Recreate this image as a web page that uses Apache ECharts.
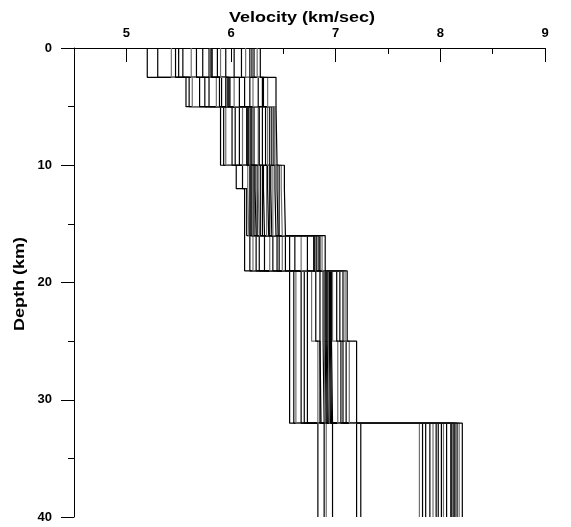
<!DOCTYPE html>
<html>
<head>
<meta charset="utf-8">
<script src="https://cdn.jsdelivr.net/npm/echarts@6/dist/echarts.min.js"></script>
<style>
  html, body { margin: 0; padding: 0; background: #fff; }
  #chart { width: 571px; height: 527px; }
</style>
</head>
<body>
<div id="chart"></div>
<script>
// Layer boundaries of the 1-D crustal velocity models (km depth)
const layerDepths = [0, 2.5, 5, 10, 12, 16, 19, 25, 32, 40];

// P velocities (km/sec) of every model, one array per layer, ordered by model
const layer1 = [5.20, 5.30, 5.43, 5.47, 5.50, 5.54, 5.62, 5.67, 5.73, 5.79, 5.80, 5.81,
                5.82, 5.87, 5.90, 5.95, 6.03, 6.10, 6.14, 6.18, 6.20, 6.22, 6.25, 6.28];
const layer2 = [5.57, 5.60, 5.63, 5.70, 5.75, 5.79, 5.86, 5.89, 5.91, 5.95, 5.96, 5.97,
                5.98, 5.99, 6.03, 6.08, 6.13, 6.18, 6.21, 6.26, 6.30, 6.31, 6.35, 6.43];
const layer3 = [5.90, 5.93, 5.95, 6.01, 6.04, 6.08, 6.11, 6.15, 6.16, 6.17, 6.18, 6.19,
                6.20, 6.22, 6.26, 6.27, 6.30, 6.33, 6.35, 6.37, 6.39, 6.41, 6.42, 6.44];
const layer4 = [6.05, 6.11, 6.16, 6.18, 6.19, 6.20, 6.21, 6.22, 6.23, 6.25, 6.26, 6.28,
                6.30, 6.31, 6.34, 6.35, 6.37, 6.38, 6.40, 6.42, 6.44, 6.46, 6.48, 6.51];
const layer5 = [6.13, 6.15, 6.17, 6.18, 6.19, 6.20, 6.21, 6.22, 6.24, 6.25, 6.27, 6.28,
                6.30, 6.32, 6.34, 6.36, 6.37, 6.39, 6.40, 6.43, 6.45, 6.46, 6.49, 6.52];
const layer6 = [6.13, 6.18, 6.21, 6.24, 6.27, 6.32, 6.37, 6.40, 6.44, 6.46, 6.49, 6.52,
                6.56, 6.61, 6.67, 6.73, 6.79, 6.80, 6.81, 6.82, 6.84, 6.85, 6.87, 6.90];
const layer7 = [6.56, 6.60, 6.62, 6.67, 6.70, 6.73, 6.77, 6.81, 6.85, 6.88, 6.89, 6.90,
                6.91, 6.92, 6.93, 6.94, 6.95, 6.96, 6.97, 7.01, 7.04, 7.07, 7.09, 7.11];
const layer8 = [6.56, 6.60, 6.62, 6.67, 6.70, 6.73, 6.83, 6.85, 6.86, 6.89, 6.90, 6.91,
                6.92, 6.93, 6.94, 6.95, 6.96, 6.97, 7.02, 7.05, 7.07, 7.10, 7.13, 7.20];
const layer9 = [6.83, 6.89, 6.91, 6.97, 7.20, 7.24, 7.80, 7.83, 7.86, 7.90, 7.93, 7.96,
                7.98, 8.01, 8.03, 8.06, 8.10, 8.11, 8.12, 8.13, 8.14, 8.16, 8.18, 8.21];

const layers = [layer1, layer2, layer3, layer4, layer5, layer6, layer7, layer8, layer9];

// Axis ticks
const velocityMajorTicks = [5, 6, 7, 8, 9];
const velocityMinorTicks = [5.5, 6.5, 7.5, 8.5];
const depthMajorTicks = [0, 10, 20, 30, 40];
const depthMinorTicks = [5, 15, 25, 35];

// Each model becomes a step profile: constant velocity through each layer
const modelCount = layer1.length;
const series = [];
for (let m = 0; m < modelCount; m++) {
  const pts = [];
  layers.forEach((vals, k) => {
    pts.push([vals[m], layerDepths[k]]);
    pts.push([vals[m], layerDepths[k + 1]]);
  });
  series.push({
    type: 'line',
    data: pts,
    showSymbol: false,
    silent: true,
    lineStyle: { width: 1.2, color: (m % 4 === 2) ? '#707070' : '#000' }
  });
}

const labelFont = { fontFamily: 'Liberation Sans, Arial, sans-serif', fontWeight: 'bold', fontSize: 13, color: '#000' };
const titleFont = 'bold 15px "Liberation Sans", Arial, sans-serif';

const chart = echarts.init(document.getElementById('chart'), null, { renderer: 'canvas' });
chart.setOption({
  animation: false,
  backgroundColor: '#fff',
  grid: { left: 74, right: 26, top: 48, bottom: 10, containLabel: false },
  xAxis: [
    {
      type: 'value', position: 'top', min: 4.5, max: 9, interval: 0.5,
      axisLine: { show: true, lineStyle: { color: '#000', width: 1 } },
      axisTick: { show: true, inside: true, length: 14, customValues: velocityMajorTicks, lineStyle: { color: '#000' } },
      axisLabel: Object.assign({ show: true, margin: 8, customValues: velocityMajorTicks }, labelFont),
      splitLine: { show: false }
    },
    {
      type: 'value', position: 'top', min: 4.5, max: 9, interval: 0.5,
      axisLine: { show: false },
      axisTick: { show: true, inside: true, length: 6, customValues: velocityMinorTicks, lineStyle: { color: '#000' } },
      axisLabel: { show: false },
      splitLine: { show: false }
    }
  ],
  yAxis: [
    {
      type: 'value', inverse: true, min: 0, max: 40, interval: 5,
      axisLine: { show: true, lineStyle: { color: '#000', width: 1 } },
      axisTick: { show: true, inside: false, length: 13, customValues: depthMajorTicks, lineStyle: { color: '#000' } },
      axisLabel: Object.assign({ show: true, margin: 22, customValues: depthMajorTicks }, labelFont),
      splitLine: { show: false }
    },
    {
      type: 'value', inverse: true, min: 0, max: 40, interval: 5, position: 'left',
      axisLine: { show: false },
      axisTick: { show: true, inside: false, length: 6, customValues: depthMinorTicks, lineStyle: { color: '#000' } },
      axisLabel: { show: false },
      splitLine: { show: false }
    }
  ],
  graphic: [
    {
      type: 'text', x: 302, y: 18, scaleX: 1.2,
      style: { text: 'Velocity (km/sec)', font: titleFont, fill: '#000', align: 'center', verticalAlign: 'middle' }
    },
    {
      type: 'text', x: 20, y: 284, rotation: Math.PI / 2, scaleX: 1.2,
      style: { text: 'Depth (km)', font: titleFont, fill: '#000', align: 'center', verticalAlign: 'middle' }
    }
  ],
  series: series
});
</script>
</body>
</html>
